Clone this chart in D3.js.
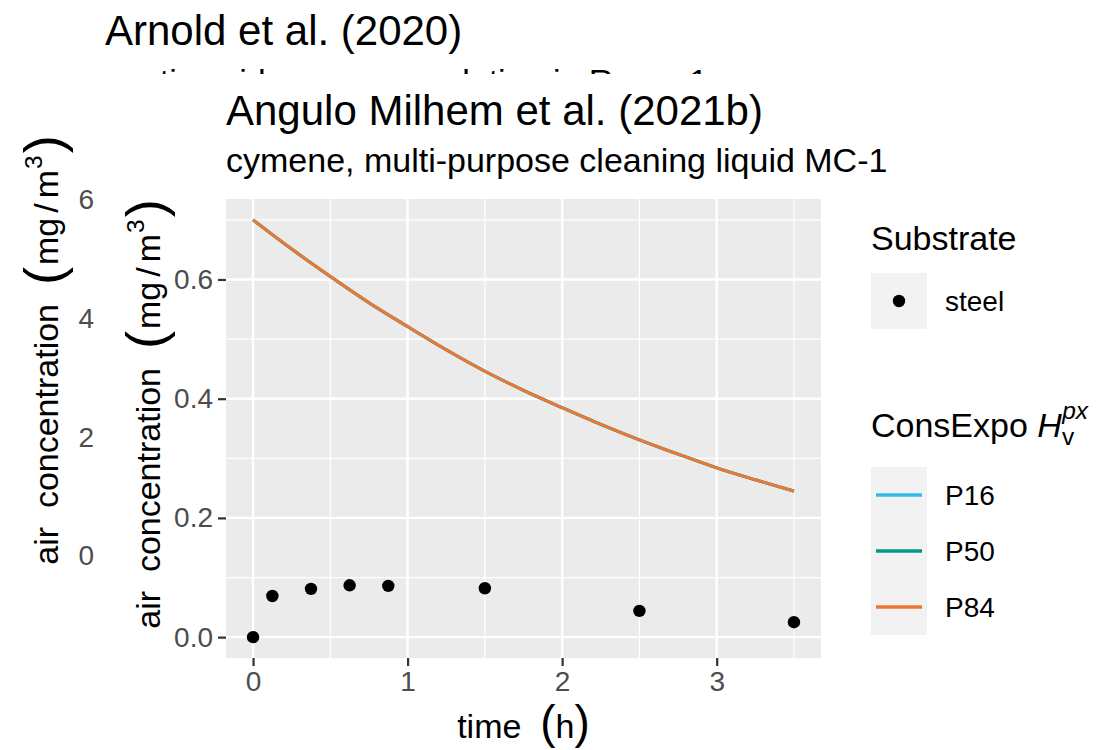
<!DOCTYPE html>
<html>
<head>
<meta charset="utf-8">
<script src="https://cdn.jsdelivr.net/npm/d3@7"></script>
<style>
  body { margin: 0; background: #fff; }
  svg { display: block; }
  text { font-family: "Liberation Sans", Arial, sans-serif; white-space: pre; }
</style>
</head>
<body>
<svg id="chart" width="1113" height="750"></svg>
<script>
// ConsExpo model curves (mg/m3) at the model time points (h)
const modelTime = [0, 0.25, 0.5, 0.75, 1, 1.25, 1.5, 1.75, 2, 2.25, 2.5, 2.75, 3, 3.25, 3.5];
const p16 = [0.700, 0.651, 0.605, 0.561, 0.521, 0.482, 0.446, 0.414, 0.385, 0.357, 0.331, 0.307, 0.284, 0.264, 0.245];
const p50 = [0.700, 0.651, 0.605, 0.561, 0.521, 0.482, 0.446, 0.414, 0.385, 0.357, 0.331, 0.307, 0.284, 0.264, 0.245];
const p84 = [0.700, 0.651, 0.605, 0.561, 0.521, 0.482, 0.446, 0.414, 0.385, 0.357, 0.331, 0.307, 0.284, 0.264, 0.245];

// Measured air concentrations on steel (mg/m3)
const obsTime  = [0, 0.125, 0.375, 0.625, 0.875, 1.5, 2.5, 3.5];
const obsSteel = [0, 0.069, 0.081, 0.087, 0.086, 0.082, 0.044, 0.025];

// Axis ticks
const xTicks = [0, 1, 2, 3];
const xMinor = [0.5, 1.5, 2.5, 3.5];
const yTicks = [0, 0.2, 0.4, 0.6];
const yMinor = [0.1, 0.3, 0.5, 0.7];
const arnoldTicks = [0, 2, 4, 6];

const seriesNames = ["P16", "P50", "P84"];
const seriesColors = ["#33BBEE", "#009988", "#EE7733"];
const seriesValues = [p16, p50, p84];

const svg = d3.select("#chart");
const FONT_BIG = 42, FONT_MID = 34, FONT_SMALL = 28;
const TICK_GREY = "#4D4D4D", TICK_LINE = "#333333";

// ---------- Plot underneath: Arnold et al. (2020) ----------
const back = svg.append("g");
back.append("text").attr("x", 105).attr("y", 45)
  .attr("font-size", FONT_BIG).attr("fill", "#000").text("Arnold et al. (2020)");
back.append("text").attr("x", 105).attr("y", 93)
  .attr("font-size", FONT_MID).attr("fill", "#000").text("acetic acid, source emulation in Room 1");

const yBack = d3.scaleLinear().domain([0, 6]).range([556, 200]);
back.append("g").attr("transform", "translate(94,0)")
  .call(d3.axisLeft(yBack).tickValues(arnoldTicks).tickSize(0).tickPadding(0).tickFormat(d3.format("d")))
  .call(g => g.select(".domain").remove())
  .call(g => g.selectAll("text").attr("font-size", FONT_SMALL).attr("fill", TICK_GREY)
    .attr("font-family", "Liberation Sans, Arial, sans-serif"));

// "air concentration (mg/m3)" with enlarged brackets, spaced slash and superscript
function concTitle(g, x, y) {
  const t = g.append("text").attr("transform", `translate(${x},${y}) rotate(-90)`)
    .attr("text-anchor", "middle").attr("font-size", FONT_MID).attr("fill", "#000");
  t.append("tspan").text("air  concentration  ");
  t.append("tspan").attr("font-size", FONT_MID * 1.6).attr("dy", 4).text("(");
  t.append("tspan").attr("dy", -4).attr("dx", 2).text("mg");
  t.append("tspan").attr("dx", 5).text("/");
  t.append("tspan").attr("dx", 5).text("m");
  t.append("tspan").attr("font-size", FONT_MID * 0.72).attr("dx", 1).attr("dy", -16).text("3");
  t.append("tspan").attr("font-size", FONT_MID * 1.6).attr("dx", 2).attr("dy", 20).text(")");
  return t;
}
concTitle(back, 58, 350);

// ---------- Plot on top: Angulo Milhem et al. (2021b) ----------
const front = svg.append("g");
front.append("rect").attr("x", 100).attr("y", 74).attr("width", 1013).attr("height", 676).attr("fill", "#fff");

const panel = { left: 226, right: 821, top: 199, bottom: 658 };
const x = d3.scaleLinear().domain([-0.175, 3.675]).range([panel.left, panel.right]);
const y = d3.scaleLinear().domain([-0.035, 0.735]).range([panel.bottom, panel.top]);

front.append("text").attr("x", panel.left).attr("y", 125)
  .attr("font-size", FONT_BIG).attr("fill", "#000").text("Angulo Milhem et al. (2021b)");
front.append("text").attr("x", panel.left).attr("y", 172)
  .attr("font-size", FONT_MID).attr("fill", "#000").text("cymene, multi-purpose cleaning liquid MC-1");

// panel background and grid
front.append("rect").attr("x", panel.left).attr("y", panel.top)
  .attr("width", panel.right - panel.left).attr("height", panel.bottom - panel.top).attr("fill", "#EBEBEB");
const grid = front.append("g").attr("stroke", "#fff").attr("fill", "none");
grid.selectAll(".ymin").data(yMinor).join("line")
  .attr("x1", panel.left).attr("x2", panel.right).attr("y1", d => y(d)).attr("y2", d => y(d)).attr("stroke-width", 1.2);
grid.selectAll(".xmin").data(xMinor).join("line")
  .attr("y1", panel.top).attr("y2", panel.bottom).attr("x1", d => x(d)).attr("x2", d => x(d)).attr("stroke-width", 1.2);
grid.selectAll(".ymaj").data(yTicks).join("line")
  .attr("x1", panel.left).attr("x2", panel.right).attr("y1", d => y(d)).attr("y2", d => y(d)).attr("stroke-width", 2.4);
grid.selectAll(".xmaj").data(xTicks).join("line")
  .attr("y1", panel.top).attr("y2", panel.bottom).attr("x1", d => x(d)).attr("x2", d => x(d)).attr("stroke-width", 2.4);

// model curves
const line = d3.line().x((d, i) => x(modelTime[i])).y(d => y(d)).curve(d3.curveMonotoneX);
front.append("g").selectAll("path").data(seriesValues).join("path")
  .attr("d", d => line(d)).attr("fill", "none")
  .attr("stroke", (d, i) => seriesColors[i]).attr("stroke-width", 3);

// measurements
front.append("g").selectAll("circle").data(obsSteel).join("circle")
  .attr("cx", (d, i) => x(obsTime[i])).attr("cy", d => y(d)).attr("r", 6.2).attr("fill", "#000");

// axes
function styleAxis(g) {
  g.select(".domain").remove();
  g.selectAll(".tick line").attr("stroke", TICK_LINE).attr("stroke-width", 2.2);
  g.selectAll(".tick text").attr("font-size", FONT_SMALL).attr("fill", TICK_GREY)
    .attr("font-family", "Liberation Sans, Arial, sans-serif");
}
front.append("g").attr("transform", `translate(0,${panel.bottom})`)
  .call(d3.axisBottom(x).tickValues(xTicks).tickSize(8).tickPadding(5).tickFormat(d3.format("d")))
  .call(styleAxis);
front.append("g").attr("transform", `translate(${panel.left},0)`)
  .call(d3.axisLeft(y).tickValues(yTicks).tickSize(8).tickPadding(5).tickFormat(d3.format(".1f")))
  .call(styleAxis);

// axis titles
const xt = front.append("text").attr("x", (panel.left + panel.right) / 2).attr("y", 738)
  .attr("text-anchor", "middle").attr("font-size", FONT_MID).attr("fill", "#000");
xt.append("tspan").text("time  ");
xt.append("tspan").attr("font-size", FONT_MID * 1.35).text("(");
xt.append("tspan").text("h");
xt.append("tspan").attr("font-size", FONT_MID * 1.35).text(")");
concTitle(front, 160, 414);

// ---------- legends ----------
const legX = 871, keyW = 56, keyH = 56;
const leg = front.append("g");
leg.append("text").attr("x", legX).attr("y", 250).attr("font-size", FONT_MID).attr("fill", "#000").text("Substrate");
leg.append("rect").attr("x", legX).attr("y", 273).attr("width", keyW).attr("height", keyH).attr("fill", "#F2F2F2");
leg.append("circle").attr("cx", legX + keyW / 2).attr("cy", 273 + keyH / 2).attr("r", 6.2).attr("fill", "#000");
leg.append("text").attr("x", 945).attr("y", 311).attr("font-size", FONT_SMALL).attr("fill", "#000").text("steel");

const lt = leg.append("text").attr("x", legX).attr("y", 437).attr("font-size", FONT_MID).attr("fill", "#000");
lt.append("tspan").text("ConsExpo ");
lt.append("tspan").attr("font-style", "italic").text("H");
lt.append("tspan").attr("font-size", FONT_MID * 0.72).attr("dy", 8).text("v");
lt.append("tspan").attr("font-size", FONT_MID * 0.72).attr("font-style", "italic").attr("dx", -12).attr("dy", -26).text("px");

const keyTop = 467;
leg.append("rect").attr("x", legX).attr("y", keyTop).attr("width", keyW).attr("height", keyH * 3).attr("fill", "#F2F2F2");
const keys = leg.selectAll(".key").data(seriesNames).join("g")
  .attr("transform", (d, i) => `translate(${legX},${keyTop + i * keyH})`);
keys.append("line").attr("x1", 5).attr("x2", keyW - 5).attr("y1", keyH / 2).attr("y2", keyH / 2)
  .attr("stroke", (d, i) => seriesColors[i]).attr("stroke-width", 3.5);
keys.append("text").attr("x", 945 - legX).attr("y", keyH / 2 + 10)
  .attr("font-size", FONT_SMALL).attr("fill", "#000").text(d => d);
</script>
</body>
</html>
